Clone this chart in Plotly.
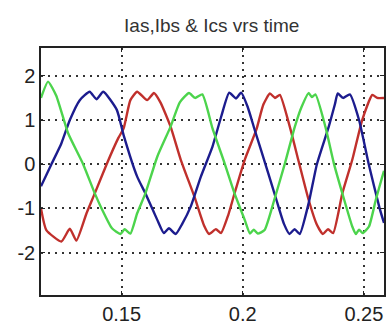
import plotly.graph_objects as go

title_text = "Ias,Ibs & Ics vrs time"
x_ticks = [0.15, 0.2, 0.25]
x_tick_labels = ["0.15", "0.2", "0.25"]
y_ticks = [-2, -1, 0, 1, 2]
y_tick_labels = ["-2", "-1", "0", "1", "2"]

# Ias (red)
t_a = [0.1167, 0.1189, 0.1251, 0.1286, 0.1313, 0.1355, 0.1389, 0.1438, 0.1486, 0.1508,
       0.1536, 0.1564, 0.1605, 0.1633, 0.1660, 0.1702, 0.1744, 0.1800, 0.1841, 0.1861,
       0.1889, 0.1910, 0.1940, 0.1966, 0.2008, 0.2056, 0.2085, 0.2112, 0.2133, 0.2153,
       0.2194, 0.2229, 0.2272, 0.2306, 0.2331, 0.2352, 0.2373, 0.2411, 0.2452, 0.2493,
       0.2535, 0.2555, 0.2583]
i_a = [-1.00, -1.49, -1.75, -1.46, -1.73, -1.11, -0.66, 0.00, 0.59, 0.81,
       1.45, 1.64, 1.45, 1.61, 1.40, 0.85, 0.10, -0.73, -1.40, -1.58,
       -1.47, -1.56, -1.15, -0.66, 0.10, 0.78, 1.35, 1.60, 1.50, 1.57,
       0.85, 0.10, -0.81, -1.37, -1.58, -1.47, -1.56, -0.66, 0.10, 1.00,
       1.57, 1.50, 1.50]

# Ibs (blue)
t_b = [0.1167, 0.1210, 0.1251, 0.1286, 0.1327, 0.1368, 0.1396, 0.1424, 0.1480, 0.1508,
       0.1564, 0.1598, 0.1647, 0.1674, 0.1695, 0.1723, 0.1750, 0.1785, 0.1827, 0.1875,
       0.1911, 0.1944, 0.1972, 0.1993, 0.2020, 0.2049, 0.2105, 0.2139, 0.2170, 0.2193,
       0.2214, 0.2235, 0.2272, 0.2306, 0.2355, 0.2380, 0.2392, 0.2414, 0.2442, 0.2480,
       0.2520, 0.2565, 0.2583]
i_b = [-0.50, 0.00, 0.47, 1.00, 1.45, 1.64, 1.47, 1.64, 1.23, 0.66,
       -0.28, -0.66, -1.26, -1.56, -1.45, -1.58, -1.35, -0.96, -0.28, 0.40,
       1.08, 1.62, 1.49, 1.62, 1.30, 0.78, -0.20, -0.81, -1.35, -1.58,
       -1.47, -1.58, -0.88, 0.00, 0.85, 1.35, 1.60, 1.50, 1.58, 1.00,
       0.00, -1.00, -1.33]

# Ics (green)
t_c = [0.1167, 0.1196, 0.1230, 0.1279, 0.1341, 0.1389, 0.1417, 0.1460, 0.1495, 0.1512,
       0.1536, 0.1564, 0.1598, 0.1647, 0.1702, 0.1740, 0.1778, 0.1803, 0.1833, 0.1875,
       0.1925, 0.1966, 0.2008, 0.2030, 0.2045, 0.2062, 0.2090, 0.2132, 0.2174, 0.2215,
       0.2243, 0.2272, 0.2285, 0.2300, 0.2341, 0.2376, 0.2411, 0.2452, 0.2467, 0.2480,
       0.2495, 0.2521, 0.2549, 0.2576, 0.2583]
i_c = [1.50, 1.87, 1.55, 0.70, 0.00, -0.66, -1.00, -1.45, -1.58, -1.47,
       -1.57, -1.11, -0.66, 0.17, 0.85, 1.40, 1.61, 1.50, 1.58, 0.81,
       0.02, -0.66, -1.26, -1.57, -1.48, -1.57, -1.49, -0.77, 0.02, 0.85,
       1.30, 1.61, 1.52, 1.58, 0.85, 0.02, -0.66, -1.41, -1.58, -1.48,
       -1.56, -1.41, -0.81, -0.28, -0.15]

line_style = dict(width=2.4, shape="spline", smoothing=0.5)

fig = go.Figure()
fig.add_trace(go.Scatter(x=t_a, y=i_a, mode="lines", line=dict(color="#c0302c", **line_style), name="Ias"))
fig.add_trace(go.Scatter(x=t_b, y=i_b, mode="lines", line=dict(color="#1c1c8e", **line_style), name="Ibs"))
fig.add_trace(go.Scatter(x=t_c, y=i_c, mode="lines", line=dict(color="#4cd44c", **line_style), name="Ics"))

axis_common = dict(
    showline=True, linecolor="#222", linewidth=1.5, mirror="ticks",
    ticks="inside", ticklen=4, tickcolor="#222",
    showgrid=True, gridcolor="#333333", gridwidth=1.6, griddash="2px,5px",
    zeroline=False, tickfont=dict(family="Liberation Sans, Arial", size=20, color="#222"),
)

fig.update_layout(
    template="none",
    width=392, height=329,
    margin=dict(l=41, r=8, t=48, b=34),
    paper_bgcolor="white", plot_bgcolor="white",
    showlegend=False,
    title=dict(text=title_text, x=0.54, xanchor="center", y=0.922, yanchor="middle",
               font=dict(family="Liberation Sans, Arial", size=19, color="#333")),
    xaxis=dict(range=[0.1167, 0.2583], tickvals=x_ticks, ticktext=x_tick_labels, **axis_common),
    yaxis=dict(range=[-2.96, 2.63], tickvals=y_ticks, ticktext=y_tick_labels, **axis_common),
)

fig.write_html("out.html")
